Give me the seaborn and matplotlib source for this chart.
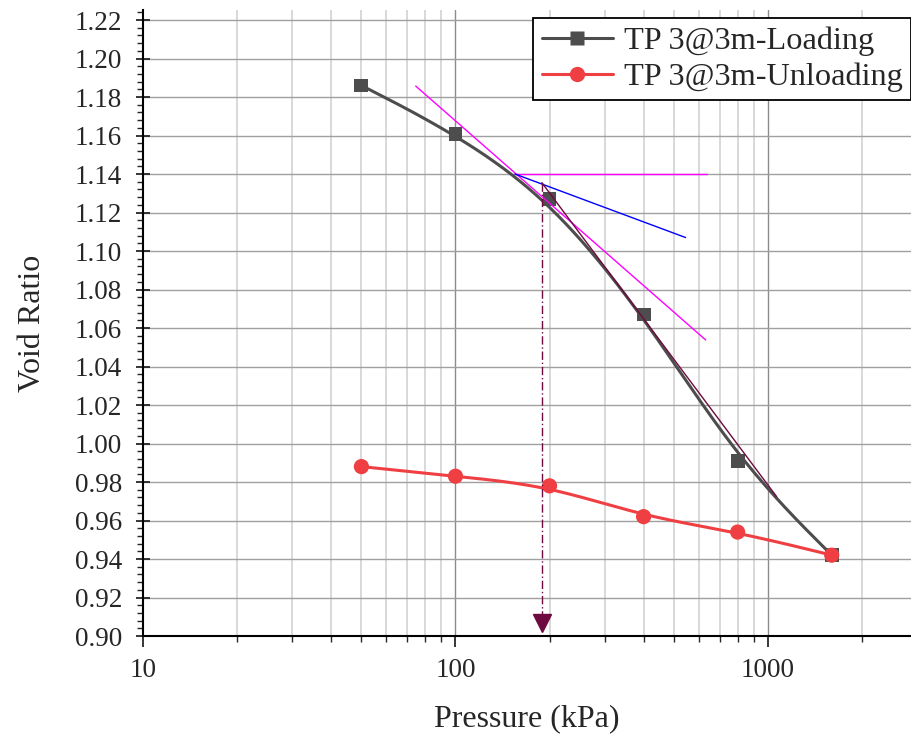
import numpy as np
import pandas as pd
import matplotlib
matplotlib.use("Agg")
import matplotlib.pyplot as plt
import seaborn as sns
from matplotlib.lines import Line2D
from matplotlib.ticker import FixedLocator, LogLocator, NullFormatter, FuncFormatter, MultipleLocator

# Oedometer test TP 3 @ 3 m: void ratio vs. applied pressure
pressure = [50, 100, 200, 400, 800, 1600]
e_loading = [1.186, 1.161, 1.127, 1.067, 0.991, 0.942]
e_unloading = [0.988, 0.983, 0.978, 0.962, 0.954, 0.942]

# Casagrande construction (pressure in kPa, void ratio)
tangent_p = [74.6, 632.0]
tangent_e = [1.1857, 1.0538]
horizontal_p = [155.0, 640.0]
horizontal_e = [1.140, 1.140]
bisector_p = [155.0, 545.0]
bisector_e = [1.140, 1.107]
virgin_p = [189.0, 1066.0]
virgin_e = [1.1355, 0.9724]
preconsolidation_p = 189.0

x_ticks = [10, 100, 1000]
x_tick_labels = ["10", "100", "1000"]

sns.set_theme(style="white")
plt.rcParams["font.family"] = ["Liberation Serif", "DejaVu Serif"]


def bspline(p, e, n=120):
    """Uniform cubic B-spline in log-pressure space using the points as control points."""
    pts = np.column_stack([np.log10(p), e])
    pts = np.vstack([pts[0], pts[0], pts, pts[-1], pts[-1]])
    M = np.array([[-1, 3, -3, 1], [3, -6, 3, 0], [-3, 0, 3, 0], [1, 4, 1, 0]]) / 6.0
    t = np.linspace(0, 1, n, endpoint=False)
    T = np.column_stack([t ** 3, t ** 2, t, np.ones_like(t)])
    segs = [T @ M @ pts[i:i + 4] for i in range(len(pts) - 3)]
    segs.append(pts[-1:])
    out = np.vstack(segs)
    return 10 ** out[:, 0], out[:, 1]


load_x, load_y = bspline(pressure, e_loading)
unload_x, unload_y = bspline(pressure, e_unloading)

load_curve = pd.DataFrame({"p": load_x, "e": load_y})
unload_curve = pd.DataFrame({"p": unload_x, "e": unload_y})
load_pts = pd.DataFrame({"p": pressure, "e": e_loading})
unload_pts = pd.DataFrame({"p": pressure, "e": e_unloading})

load_color = "#4d4d4d"
unload_color = "#ef3f42"
maroon = "#6e0a40"

fig = plt.figure(figsize=(9.12, 7.36), dpi=100)
ax = fig.add_axes([143 / 912, 1 - 636 / 736, (911 - 143) / 912, (636 - 10) / 736])

ax.set_xscale("log")
ax.set_xlim(10, 2870)
ax.set_ylim(0.90, 1.2252)

# grid
for v in [20, 30, 40, 50, 60, 70, 80, 90, 200, 300, 400, 500, 600, 700, 800, 900, 2000]:
    ax.axvline(v, color="#d6d6d6", lw=1.3, zorder=0)
for v in [100, 1000]:
    ax.axvline(v, color="#8c8c8c", lw=1.0, zorder=0)
for v in np.arange(0.92, 1.2201, 0.02):
    ax.axhline(v, color="#a0a0a0", lw=1.0, zorder=0)

ax.plot(load_curve["p"], load_curve["e"], color=load_color, lw=2.2, zorder=3,
        solid_joinstyle="round")
ax.plot(unload_curve["p"], unload_curve["e"], color=unload_color, lw=2.2, zorder=3,
        solid_joinstyle="round")
sns.scatterplot(data=load_pts, x="p", y="e", marker="s", s=100,
                color=load_color, edgecolor="none", ax=ax, zorder=4, legend=False)
sns.scatterplot(data=unload_pts, x="p", y="e", marker="o", s=120,
                color=unload_color, edgecolor="none", ax=ax, zorder=5, legend=False)

# construction lines
ax.plot(tangent_p, tangent_e, color="#ff00ff", lw=1.0, zorder=6)
ax.plot(horizontal_p, horizontal_e, color="#ff00ff", lw=1.0, zorder=6)
ax.plot(bisector_p, bisector_e, color="#0000ff", lw=1.0, zorder=6)
ax.plot(virgin_p, virgin_e, color=maroon, lw=1.0, zorder=6)
ax.plot([preconsolidation_p, preconsolidation_p], [virgin_e[0], 0.909], color=maroon, lw=1.0,
        ls=(0, (6, 2, 1, 2)), zorder=6)
ax.plot([preconsolidation_p], [0.9065], marker="v", markersize=13, color=maroon,
        markeredgecolor=maroon, zorder=7, clip_on=False)

# axes styling
for side in ["top", "right"]:
    ax.spines[side].set_visible(False)
for side in ["left", "bottom"]:
    ax.spines[side].set_color("black")
    ax.spines[side].set_linewidth(1.5)

ax.xaxis.set_major_locator(FixedLocator(x_ticks))
ax.xaxis.set_major_formatter(FuncFormatter(
    lambda v, pos: x_tick_labels[x_ticks.index(int(round(v)))] if int(round(v)) in x_ticks else ""))
ax.xaxis.set_minor_locator(LogLocator(base=10, subs=np.arange(2, 10), numticks=20))
ax.xaxis.set_minor_formatter(NullFormatter())
ax.yaxis.set_major_locator(MultipleLocator(0.02))
ax.yaxis.set_minor_locator(MultipleLocator(0.004))
ax.yaxis.set_major_formatter(FuncFormatter(lambda v, pos: f"{v:.2f}"))

ax.tick_params(axis="y", which="major", direction="inout", length=10, width=1.3, labelsize=19.5, pad=10, left=True)
ax.tick_params(axis="y", which="minor", direction="out", length=4, width=1.0, left=True)
ax.tick_params(axis="x", which="major", direction="out", length=8, width=1.3, labelsize=19.5, pad=8, bottom=True)
ax.tick_params(axis="x", which="minor", direction="out", length=4, width=1.0, bottom=True)

ax.set_xlabel("Pressure (kPa)", fontsize=23, labelpad=15)
ax.set_ylabel("Void Ratio", fontsize=23, labelpad=20)

handles = [
    Line2D([], [], color=load_color, lw=2.2, marker="s", markersize=10, markeredgecolor="none"),
    Line2D([], [], color=unload_color, lw=2.2, marker="o", markersize=11, markeredgecolor="none"),
]
leg = ax.legend(handles, ["TP 3@3m-Loading", "TP 3@3m-Unloading"], loc="upper right",
                bbox_to_anchor=(1.0, 0.987), fontsize=23.3, frameon=True, fancybox=False,
                edgecolor="black", framealpha=1, borderpad=0.25, labelspacing=0.2,
                handlelength=2.2, handletextpad=0.35, borderaxespad=0.0)
leg.get_frame().set_linewidth(1.3)
leg.set_zorder(10)

fig.savefig("out.png", dpi=100)
